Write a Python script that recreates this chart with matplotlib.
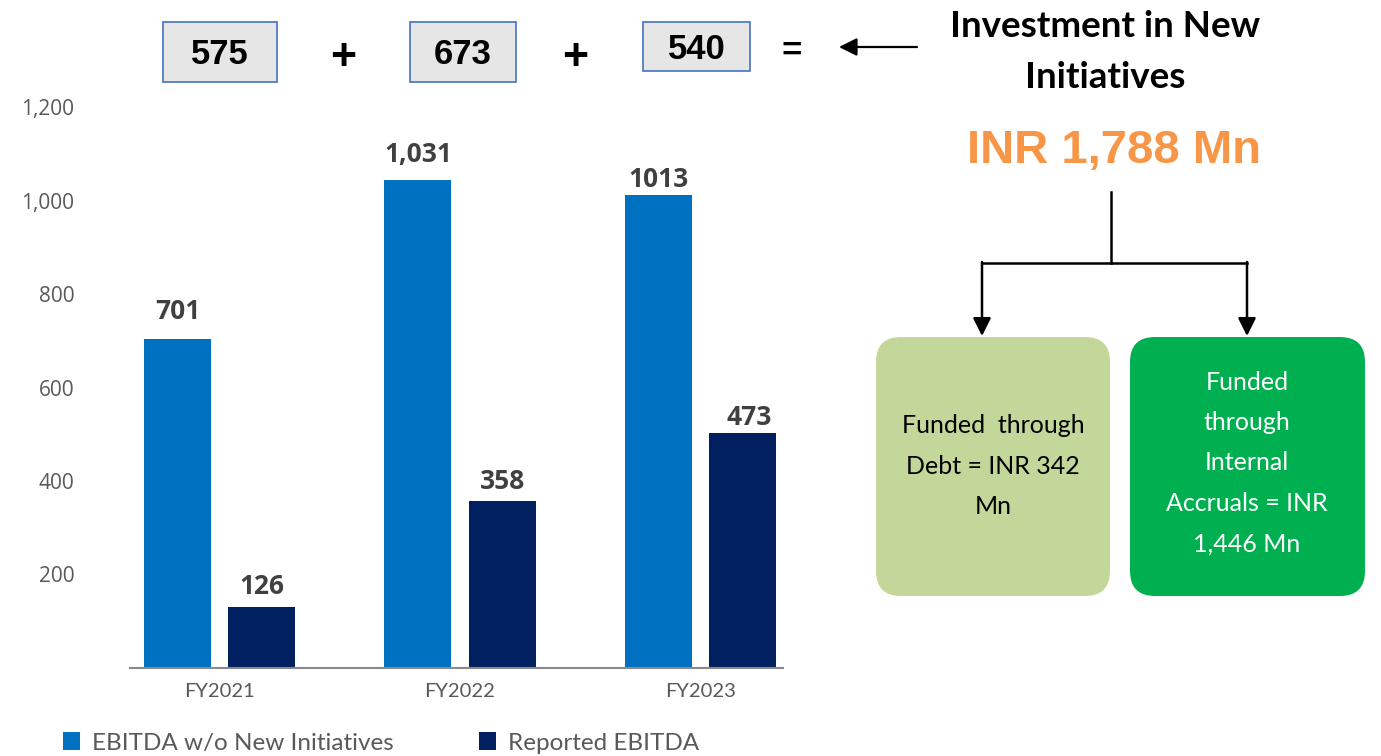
import matplotlib
matplotlib.use('Agg')
import matplotlib.pyplot as plt
from matplotlib.patches import Rectangle, FancyBboxPatch
import numpy as np

plt.rcParams['font.family'] = ['Open Sans', 'DejaVu Sans']

# 資料
years = ['FY2021', 'FY2022', 'FY2023']
ebitda_wo_new = [703, 1043, 1011]          # bar heights as drawn
ebitda_wo_new_labels = ['701', '1,031', '1013']
reported_ebitda = [131, 357, 503]
reported_ebitda_labels = ['126', '358', '473']
yticks = [200, 400, 600, 800, 1000, 1200]
ytick_labels = ['200', '400', '600', '800', '1,000', '1,200']
investments = ['575', '673', '540']
total_investment = 'INR 1,788 Mn'
title_text = 'Investment in New\nInitiatives'
debt_text = 'Funded  through\nDebt = INR 342\nMn'
accruals_text = 'Funded\nthrough\nInternal\nAccruals = INR\n1,446 Mn'

W, H = 1381, 756
fig = plt.figure(figsize=(W / 100, H / 100), dpi=100)

# 畫布座標層 (pixel)
ov = fig.add_axes([0, 0, 1, 1])
ov.set_xlim(0, W)
ov.set_ylim(H, 0)
ov.axis('off')

# 長條圖
ax = fig.add_axes([130 / W, (H - 668) / H, (783 - 130) / W, (668 - 107) / H])
x = np.arange(len(years))
w = 0.279
off = 0.175
b1 = ax.bar(x - off, ebitda_wo_new, w, color='#0070C0', label='EBITDA w/o New Initiatives')
b2 = ax.bar(x + off, reported_ebitda, w, color='#002060', label='Reported EBITDA')

gap1 = [15, 13, 6]
gap2 = [9, 9, 6]
dx2 = [0, 0, 5]
for i in range(len(years)):
    ax.annotate(ebitda_wo_new_labels[i], (x[i] - off, ebitda_wo_new[i]), xytext=(0, gap1[i]),
                textcoords='offset points', ha='center', va='baseline',
                fontsize=19, fontweight='bold', color='#404040')
    ax.annotate(reported_ebitda_labels[i], (x[i] + off, reported_ebitda[i]), xytext=(dx2[i], gap2[i]),
                textcoords='offset points', ha='center', va='baseline',
                fontsize=19, fontweight='bold', color='#404040')

ax.set_xlim(-0.372, 2.343)
ax.set_ylim(0, 1200)
ax.set_yticks(yticks)
ax.set_yticklabels(ytick_labels)
ax.set_xticks(x)
ax.set_xticklabels(years)
ax.tick_params(axis='y', length=0, pad=40, labelsize=15, labelcolor='#595959')
ax.tick_params(axis='x', length=0, pad=11, labelsize=14.5, labelcolor='#595959')
for lbl in ax.get_xticklabels():
    lbl.set_family('Lato')
for s in ['top', 'right', 'left']:
    ax.spines[s].set_visible(False)
ax.spines['bottom'].set_color('#898989')
ax.spines['bottom'].set_linewidth(1.5)
ax.patch.set_alpha(0)

fig.legend(handles=[b1, b2], loc='center left', bbox_to_anchor=(63 / W, 13 / H), ncol=2,
           frameon=False, prop={'family': 'Lato', 'size': 17.5}, labelcolor='#595959',
           handlelength=0.7, handleheight=0.75, handletextpad=0.5, columnspacing=3.5,
           borderpad=0, borderaxespad=0)

# 上方投資金額方塊
box_x = [163, 410, 643]
box_w = [114, 106, 107]
box_h = [60, 60, 49]
for bx, bw, bh, v in zip(box_x, box_w, box_h, investments):
    ov.add_patch(Rectangle((bx, 22), bw, bh, fc='#E7E6E6', ec='#4472C4', lw=1.2))
    ov.text(bx + bw / 2, 22 + bh / 2 + 12.5, v, ha='center', va='baseline',
            fontsize=25, fontweight='bold', family='Liberation Sans', color='black')
for px in [343, 575]:
    ov.text(px, 70, '+', ha='center', va='baseline', fontsize=32, fontweight='bold',
            family='Liberation Sans')
ov.text(792, 61, '=', ha='center', va='baseline', fontsize=25, fontweight='bold',
        family='Liberation Sans')
ov.annotate('', xy=(839, 47), xytext=(917, 47),
            arrowprops=dict(arrowstyle='-|>', color='black', lw=1.6, mutation_scale=27,
                            shrinkA=0, shrinkB=0))

# 標題
ov.text(1105, 88, title_text, ha='center', va='baseline', fontsize=26.5, fontweight='bold',
        family='Lato', linespacing=1.65, color='black')
ov.text(1114, 163, total_investment, ha='center', va='baseline', fontsize=34, fontweight='bold',
        family='Liberation Sans', color='#F79646')

# 樹狀箭頭
ov.plot([1111, 1111], [192, 263], color='black', lw=1.8)
ov.plot([982, 1247], [263, 263], color='black', lw=1.8)
for ax_x in [982, 1247]:
    ov.annotate('', xy=(ax_x, 336), xytext=(ax_x, 262),
                arrowprops=dict(arrowstyle='-|>', color='black', lw=1.8, mutation_scale=27,
                                shrinkA=0, shrinkB=0))

# 資金來源方塊
ov.add_patch(FancyBboxPatch((876, 337), 234, 259, boxstyle='round,pad=0,rounding_size=25',
                            fc='#C4D79B', ec='none'))
ov.add_patch(FancyBboxPatch((1130, 337), 235, 259, boxstyle='round,pad=0,rounding_size=25',
                            fc='#00B050', ec='none'))
ov.text(993, 466, debt_text, ha='center', va='center', fontsize=18, family='Lato',
        linespacing=1.91, color='black')
ov.text(1247, 463, accruals_text, ha='center', va='center', fontsize=18, family='Lato',
        linespacing=1.91, color='white')

plt.savefig('out.png', dpi=100)
